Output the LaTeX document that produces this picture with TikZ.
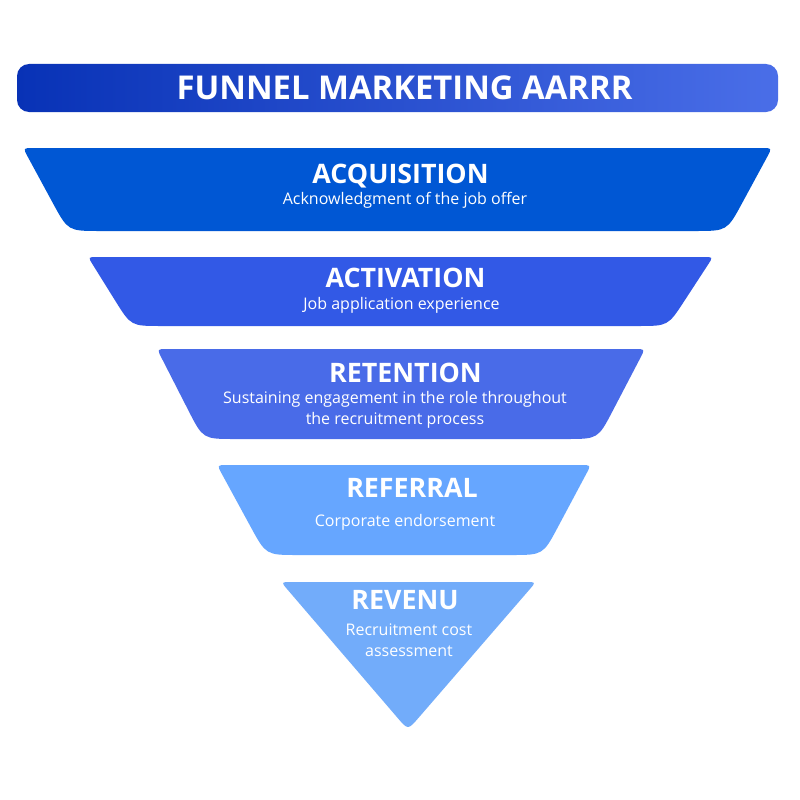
\documentclass[tikz,border=0pt]{standalone}
\usepackage{fontspec}
\setmainfont{Open Sans}
\usetikzlibrary{calc}
\definecolor{titleL}{RGB}{8,50,182}
\definecolor{titleR}{RGB}{74,110,232}
\definecolor{cAcq}{RGB}{0,87,212}
\definecolor{cAct}{RGB}{50,89,230}
\definecolor{cRet}{RGB}{73,107,232}
\definecolor{cRef}{RGB}{102,166,255}
\definecolor{cRev}{RGB}{114,172,250}
\tikzset{
  head/.style={text=white, font=\bfseries\fontsize{26.8}{30}\selectfont, anchor=base, inner sep=0pt},
  subtxt/.style={text=white, font=\fontsize{16}{21}\selectfont, anchor=base, inner sep=0pt},
}
% #1 top y, #2 bottom y, #3 TL x, #4 TR x, #5 BL x, #6 BR x, #7 r top, #8 r bottom, #9 colour
\newcommand\trapshape[9]{%
  \coordinate (TL) at (#3,#1);
  \coordinate (TR) at (#4,#1);
  \coordinate (BR) at (#6,#2);
  \coordinate (BL) at (#5,#2);
  \fill[#9] ($(TL)!#7!(TR)$) -- ($(TR)!#7!(TL)$) .. controls (TR) .. ($(TR)!#7!(BR)$)
    -- ($(BR)!#8!(TR)$) .. controls (BR) .. ($(BR)!#8!(BL)$)
    -- ($(BL)!#8!(BR)$) .. controls (BL) .. ($(BL)!#8!(TL)$)
    -- ($(TL)!#7!(BL)$) .. controls (TL) .. ($(TL)!#7!(TR)$) -- cycle;
}
\begin{document}
\begin{tikzpicture}[x=1pt,y=-1pt]
\useasboundingbox (0,0) rectangle (800,800);
\fill[white] (0,0) rectangle (800,800);
% title bar
\shade[left color=titleL, right color=titleR, rounded corners=12pt] (17,64) rectangle (778,112);
\node[head, font=\bfseries\fontsize{32.8}{36}\selectfont] (title) at (404.5,99) {FUNNEL MARKETING AARRR};
% acquisition
\trapshape{148}{231}{23}{772}{68}{727}{10pt}{32pt}{cAcq}
\node[head] (acq) at (400.5,183) {ACQUISITION};
\node[subtxt] (acqs) at (405,204) {Acknowledgment of the job offer};
% activation
\trapshape{257}{326}{88}{713}{131}{668}{9pt}{30pt}{cAct}
\node[head] (act) at (405.5,287) {ACTIVATION};
\node[subtxt] (acts) at (401.5,309) {Job application experience};
% retention
\trapshape{349}{439}{157}{645}{203}{598}{10pt}{32pt}{cRet}
\node[head] (ret) at (405.5,382) {RETENTION};
\node[subtxt] (rets1) at (395,403) {Sustaining engagement in the role throughout};
\node[subtxt] (rets2) at (395,424) {the recruitment process};
% referral
\trapshape{465}{555}{217}{591}{266}{543}{10pt}{32pt}{cRef}
\node[head] (ref) at (412,497) {REFERRAL};
\node[subtxt] (refs) at (405,526) {Corporate endorsement};
% revenu
\coordinate (VL) at (281,582);
\coordinate (VR) at (536,582);
\coordinate (VA) at (408,730);
\fill[cRev] ($(VL)!10pt!(VR)$) -- ($(VR)!10pt!(VL)$) .. controls (VR) .. ($(VR)!10pt!(VA)$)
  -- ($(VA)!16pt!(VR)$) .. controls (VA) .. ($(VA)!16pt!(VL)$)
  -- ($(VL)!10pt!(VA)$) .. controls (VL) .. ($(VL)!10pt!(VR)$) -- cycle;
\node[head] (rev) at (405,609) {REVENU};
\node[subtxt] (revs1) at (409,635) {Recruitment cost};
\node[subtxt] (revs2) at (409,656) {assessment};
\end{tikzpicture}
\end{document}
